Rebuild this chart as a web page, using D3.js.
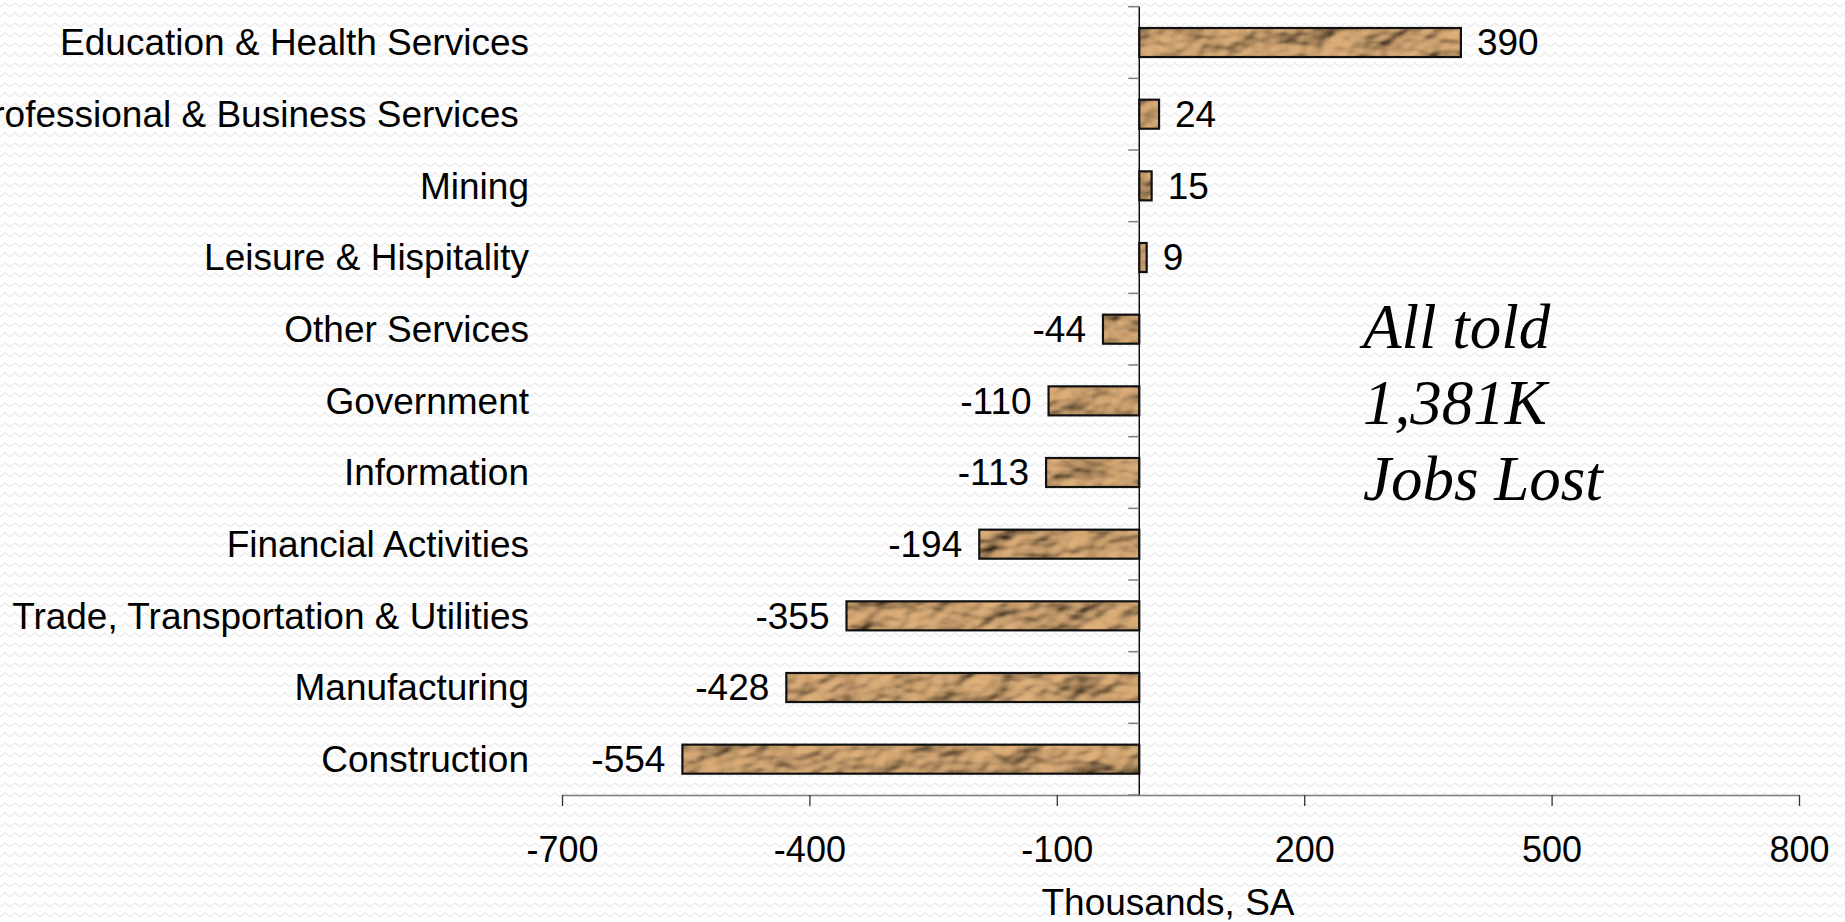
<!DOCTYPE html>
<html>
<head>
<meta charset="utf-8">
<script src="https://cdn.jsdelivr.net/npm/d3@7"></script>
<style>
  html, body { margin: 0; padding: 0; background: #fff; overflow: hidden; }
  svg { display: block; }
</style>
</head>
<body>
<div id="chart"></div>
<script>
// Job change by sector, thousands (top to bottom)
var categories = [
  'Education & Health Services',
  'Professional & Business Services\u00a0',
  'Mining',
  'Leisure & Hispitality',
  'Other Services',
  'Government',
  'Information',
  'Financial Activities',
  'Trade, Transportation & Utilities',
  'Manufacturing',
  'Construction'
];
var values = [390, 24, 15, 9, -44, -110, -113, -194, -355, -428, -554];
var xTicks = [-700, -400, -100, 200, 500, 800];
var note = ['All told', '1,381K', 'Jobs Lost'];

var W = 1845, H = 922;
var svg = d3.select('#chart').append('svg')
  .attr('width', W).attr('height', H)
  .attr('viewBox', '0 0 ' + W + ' ' + H);

var defs = svg.append('defs');

// faint zigzag background
var bg = defs.append('pattern')
  .attr('id', 'zig').attr('patternUnits', 'userSpaceOnUse')
  .attr('width', 10).attr('height', 10);
bg.append('path')
  .attr('d', 'M0,7 L5,3 L10,7')
  .attr('fill', 'none').attr('stroke', '#ececec').attr('stroke-width', 1.4);

// crumpled tan texture for the bars
var f = defs.append('filter').attr('id', 'crumple')
  .attr('filterUnits', 'userSpaceOnUse')
  .attr('x', 0).attr('y', 0).attr('width', W).attr('height', H);
f.append('feTurbulence')
  .attr('type', 'fractalNoise').attr('baseFrequency', '0.022 0.035')
  .attr('numOctaves', 3).attr('seed', 5).attr('result', 'noise');
var light = f.append('feDiffuseLighting')
  .attr('in', 'noise').attr('lighting-color', '#dfb07a')
  .attr('surfaceScale', 10).attr('result', 'lit');
light.append('feDistantLight').attr('azimuth', 235).attr('elevation', 45);
f.append('feComposite').attr('in', 'lit').attr('in2', 'SourceGraphic').attr('operator', 'in');

svg.append('rect').attr('width', W).attr('height', H).attr('fill', 'url(#zig)');

var x = d3.scaleLinear().domain([-700, 800]).range([562, 1799]);
var y = d3.scaleBand().domain(categories).range([6.7, 795])
  .paddingInner(0.595).paddingOuter(0.2975);

var fontSans = '"Liberation Sans", Arial, sans-serif';

// x axis
var xAxis = svg.append('g')
  .attr('transform', 'translate(0,795)')
  .call(d3.axisBottom(x).tickValues(xTicks)
    .tickFormat(function (d) { return String(d); })
    .tickSize(11).tickSizeOuter(0).tickPadding(30));
xAxis.select('.domain').attr('stroke', '#7f7f7f').attr('stroke-width', 1.5);
xAxis.selectAll('.tick line').attr('stroke', '#333').attr('stroke-width', 1.3);
xAxis.selectAll('.tick text')
  .attr('font-family', fontSans).attr('font-size', 36).attr('fill', '#000');

svg.append('text')
  .attr('x', 1168).attr('y', 915)
  .attr('text-anchor', 'middle')
  .attr('font-family', fontSans).attr('font-size', 37)
  .text('Thousands, SA');

// bars
var bars = svg.append('g');
bars.selectAll('rect.fill')
  .data(values)
  .join('rect')
  .attr('class', 'fill')
  .attr('x', function (d) { return x(Math.min(0, d)); })
  .attr('y', function (d, i) { return y(categories[i]); })
  .attr('width', function (d) { return Math.abs(x(d) - x(0)); })
  .attr('height', y.bandwidth())
  .attr('fill', '#c49f72')
  .attr('filter', 'url(#crumple)');
bars.selectAll('rect.edge')
  .data(values)
  .join('rect')
  .attr('class', 'edge')
  .attr('x', function (d) { return x(Math.min(0, d)); })
  .attr('y', function (d, i) { return y(categories[i]); })
  .attr('width', function (d) { return Math.abs(x(d) - x(0)); })
  .attr('height', y.bandwidth())
  .attr('fill', 'none')
  .attr('stroke', '#111').attr('stroke-width', 2.2);

// y axis at zero with category-boundary ticks
var yAxisG = svg.append('g');
yAxisG.append('line')
  .attr('x1', x(0)).attr('x2', x(0))
  .attr('y1', y.range()[0]).attr('y2', y.range()[1])
  .attr('stroke', '#111').attr('stroke-width', 1.5);
yAxisG.selectAll('line.tk')
  .data(d3.range(categories.length + 1))
  .join('line')
  .attr('class', 'tk')
  .attr('x1', x(0) - 11).attr('x2', x(0))
  .attr('y1', function (i) { return y.range()[0] + i * y.step(); })
  .attr('y2', function (i) { return y.range()[0] + i * y.step(); })
  .attr('stroke', '#7f7f7f').attr('stroke-width', 1.5);

// category labels
svg.append('g').selectAll('text')
  .data(categories)
  .join('text')
  .attr('x', 529)
  .attr('y', function (d) { return y(d) + y.bandwidth() / 2; })
  .attr('dy', '0.35em')
  .attr('text-anchor', 'end')
  .attr('font-family', fontSans).attr('font-size', 37)
  .text(function (d) { return d; });

// value labels
svg.append('g').selectAll('text')
  .data(values)
  .join('text')
  .attr('x', function (d) { return d >= 0 ? x(d) + 16 : x(d) - 17; })
  .attr('y', function (d, i) { return y(categories[i]) + y.bandwidth() / 2; })
  .attr('dy', '0.35em')
  .attr('text-anchor', function (d) { return d >= 0 ? 'start' : 'end'; })
  .attr('font-family', fontSans).attr('font-size', 37)
  .text(function (d) { return d; });

// annotation
svg.append('g').selectAll('text')
  .data(note)
  .join('text')
  .attr('x', 1363)
  .attr('y', function (d, i) { return 348 + i * 76; })
  .attr('font-family', '"Liberation Serif", "Times New Roman", serif')
  .attr('font-style', 'italic').attr('font-size', 63)
  .text(function (d) { return d; });
</script>
</body>
</html>
